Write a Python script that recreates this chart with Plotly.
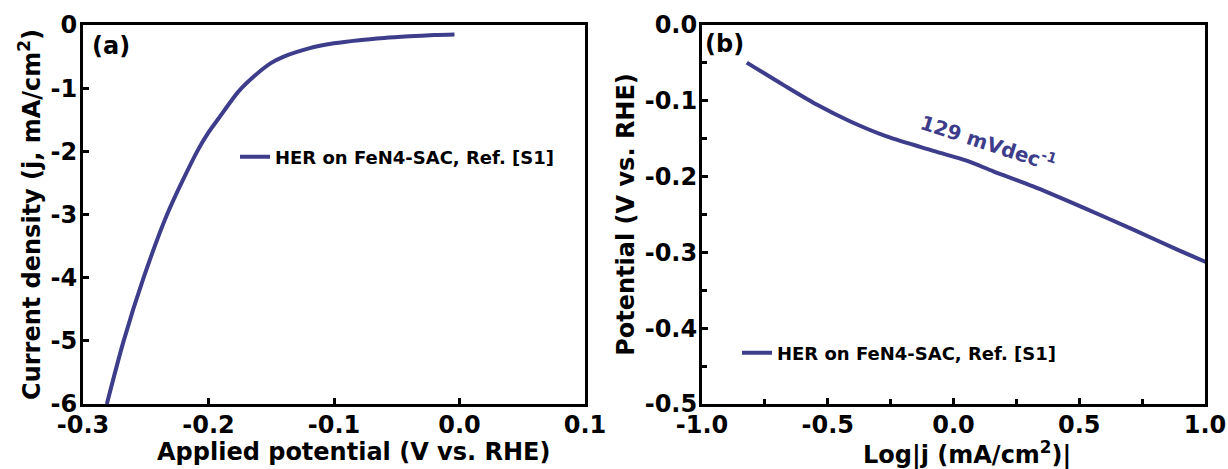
import plotly.graph_objects as go

# Panel (a): LSV curve
pot_a = [-0.281, -0.2676, -0.2517, -0.233, -0.209, -0.200, -0.192, -0.176, -0.163,
         -0.150, -0.140, -0.120, -0.100, -0.080, -0.060, -0.040, -0.020, -0.004]
j_a = [-6.0, -5.0, -4.0, -3.0, -2.0, -1.70, -1.48, -1.05, -0.80,
       -0.60, -0.50, -0.37, -0.29, -0.24, -0.205, -0.18, -0.16, -0.15]

# Panel (b): Tafel curve
logj_b = [-0.822, -0.677, -0.544, -0.412, -0.266, -0.080, 0.052, 0.158, 0.317,
          0.516, 0.715, 0.901, 1.027]
pot_b = [-0.0496, -0.079, -0.105, -0.127, -0.147, -0.166, -0.179, -0.193, -0.213,
         -0.241, -0.270, -0.298, -0.316]

# Tick labels
xa_vals = [-0.3, -0.2, -0.1, 0.0, 0.1]
xa_text = ["-0.3", "-0.2", "-0.1", "0.0", "0.1"]
ya_vals = [0, -1, -2, -3, -4, -5, -6]
ya_text = ["0", "-1", "-2", "-3", "-4", "-5", "-6"]
xb_vals = [-1.0, -0.5, 0.0, 0.5, 1.0]
xb_text = ["-1.0", "-0.5", "0.0", "0.5", "1.0"]
yb_vals = [0.0, -0.1, -0.2, -0.3, -0.4, -0.5]
yb_text = ["0.0", "-0.1", "-0.2", "-0.3", "-0.4", "-0.5"]

label = "HER on FeN4-SAC, Ref. [S1]"
color = "#3D3D8C"
FONT = "DejaVu Sans, sans-serif"

fig = go.Figure()
fig.add_trace(go.Scatter(x=pot_a, y=j_a, mode="lines", name="<b>" + label + "</b>",
                         line=dict(color=color, width=4, shape="spline", smoothing=0.8),
                         xaxis="x", yaxis="y", legend="legend"))
fig.add_trace(go.Scatter(x=logj_b, y=pot_b, mode="lines", name="<b>" + label + "</b>",
                         line=dict(color=color, width=4, shape="spline", smoothing=0.8),
                         xaxis="x2", yaxis="y2", legend="legend2"))

W, H = 1228, 469
dxa = [83 / W, 585 / W]
dxb = [702 / W, 1205 / W]
dy = [1 - 404 / H, 1 - 25 / H]

def bold(lst):
    return ["<b>" + t + "</b>" for t in lst]

axis_common = dict(showline=True, linewidth=3, linecolor="black", mirror=True,
                   ticks="inside", ticklen=6, tickwidth=3, tickcolor="black",
                   showgrid=False, zeroline=False, tickmode="array", automargin=False,
                   tickfont=dict(family=FONT, size=24, color="black"))

fig.update_layout(
    template="none",
    width=W, height=H,
    margin=dict(l=0, r=0, t=0, b=0, autoexpand=False),
    plot_bgcolor="white", paper_bgcolor="white",
    font=dict(family=FONT, color="black"),
    xaxis=dict(domain=dxa, anchor="y", range=[-0.3, 0.1],
               tickvals=xa_vals, ticktext=bold(xa_text), ticklabelstandoff=-3,
               **axis_common),
    yaxis=dict(domain=dy, anchor="x", range=[-6, 0],
               tickvals=ya_vals, ticktext=bold(ya_text), ticklabelstandoff=-2,
               title=dict(text="<b>Current density (j, mA/cm<sup>2</sup>)</b>",
                          font=dict(family=FONT, size=24, color="black"), standoff=4),
               **axis_common),
    xaxis2=dict(domain=dxb, anchor="y2", range=[-1, 1],
                tickvals=xb_vals, ticktext=bold(xb_text), ticklabelstandoff=-3,
                minor=dict(tickvals=[-0.75, -0.25, 0.25, 0.75], ticks="inside",
                           ticklen=5, tickwidth=3, tickcolor="black"),
                **axis_common),
    yaxis2=dict(domain=dy, anchor="x2", range=[-0.5, 0],
                tickvals=yb_vals, ticktext=bold(yb_text), ticklabelstandoff=-3,
                minor=dict(tickvals=[-0.05, -0.15, -0.25, -0.35, -0.45], ticks="inside",
                           ticklen=5, tickwidth=3, tickcolor="black"),
                title=dict(text="<b>Potential (V vs. RHE)</b>",
                           font=dict(family=FONT, size=24, color="black"), standoff=4),
                **axis_common),
    legend=dict(x=235 / W, y=1 - 157 / H, xanchor="left", yanchor="middle",
                bgcolor="rgba(0,0,0,0)", borderwidth=0,
                font=dict(family=FONT, size=18, color="black")),
    legend2=dict(x=737 / W, y=1 - 353 / H, xanchor="left", yanchor="middle",
                 bgcolor="rgba(0,0,0,0)", borderwidth=0,
                 font=dict(family=FONT, size=18, color="black")),
    showlegend=True,
    annotations=[
        dict(text="<b>Applied potential (V vs. RHE)</b>", x=353 / W, y=1 - 452 / H,
             xref="paper", yref="paper", xanchor="center", yanchor="middle",
             showarrow=False, font=dict(family=FONT, size=24, color="black")),
        dict(text="<b>Log|j (mA/cm<sup>2</sup>)|</b>", x=967 / W, y=1 - 453 / H,
             xref="paper", yref="paper", xanchor="center", yanchor="middle",
             showarrow=False, font=dict(family=FONT, size=24, color="black")),
        dict(text="<b>(a)</b>", x=90 / W, y=1 - 30 / H, xref="paper", yref="paper",
             xanchor="left", yanchor="top", showarrow=False,
             font=dict(family=FONT, size=24, color="black")),
        dict(text="<b>(b)</b>", x=703 / W, y=1 - 28 / H, xref="paper", yref="paper",
             xanchor="left", yanchor="top", showarrow=False,
             font=dict(family=FONT, size=24, color="black")),
        dict(text="<b>129 mVdec<sup>-1</sup></b>", x=0.137, y=-0.155, xref="x2", yref="y2",
             xanchor="center", yanchor="middle", showarrow=False, textangle=18,
             font=dict(family=FONT, size=20, color=color)),
    ],
)

fig.write_html("out.html", config={"displayModeBar": False},
               post_script="document.body.style.margin='0';document.body.style.overflow='hidden';")
